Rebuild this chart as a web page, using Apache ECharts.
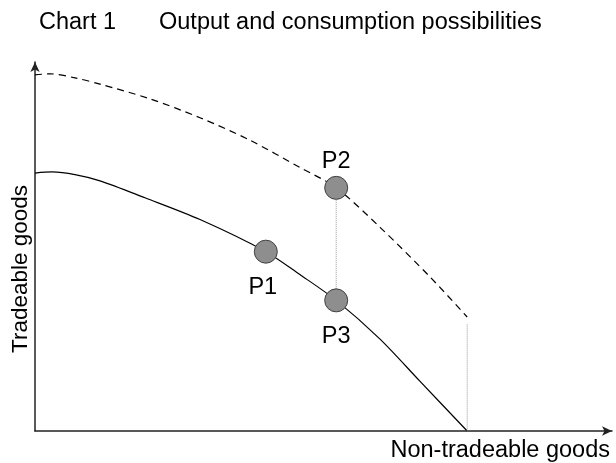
<!DOCTYPE html>
<html>
<head>
<meta charset="utf-8">
<title>Output and consumption possibilities</title>
<script src="https://cdn.jsdelivr.net/npm/echarts@6/dist/echarts.min.js"></script>
<style>
    html, body { margin: 0; padding: 0; background: #fff; }
    #chart { width: 616px; height: 463px; }
</style>
</head>
<body>
<div id="chart"></div>
<script>
    // output possibilities (solid) and consumption possibilities (dashed), axis units 0-100
    const outputX = [0, 2.95, 6.93, 11.27, 19.06, 28.6, 40, 45.9, 52.2, 59.8, 66.7, 74.9];
    const outputY = [69.9, 70.2, 69.5, 67.8, 63.2, 57.3, 48.6, 42.4, 35.4, 24.9, 13.5, 0];
    const consumptionX = [0, 2.6, 6.93, 11.27, 19.93, 28.6, 37.26, 45.93, 52.2, 59.8, 68.5, 74.9];
    const consumptionY = [96.5, 96.8, 95.7, 94, 90, 84.9, 78.8, 71.4, 65.9, 55.2, 41.7, 30.9];

    // marked points
    const pointNames = ["P1", "P2", "P3"];
    const pointX = [40, 52.2, 52.2];
    const pointY = [48.6, 65.9, 35.4];

    // dotted guide lines: P2 -> P3 and end of dashed curve -> x axis
    const guide1 = [[52.2, 65.9], [52.2, 35.4]];
    const guide2 = [[74.9, 28.9], [74.9, 0]];

    const titleLeft = "Chart 1";
    const titleRight = "Output and consumption possibilities";
    const xName = "Non-tradeable goods";
    const yName = "Tradeable goods";

    const font = "Liberation Sans, Arial, Helvetica, sans-serif";
    const fontSize = 23.5;

    let myChart = echarts.init(document.getElementById("chart"));

    let zip = (xs, ys) => xs.map((x, i) => [x, ys[i]]);

    let option = {
        animation: false,
        backgroundColor: "#fff",
        title: [
            {
                text: titleLeft,
                left: 34,
                top: 6,
                textStyle: { fontFamily: font, fontSize: fontSize, fontWeight: "normal", color: "#000" }
            },
            {
                text: titleRight,
                left: 154,
                top: 6,
                textStyle: { fontFamily: font, fontSize: fontSize, fontWeight: "normal", color: "#000" }
            }
        ],
        grid: {
            left: 35,
            right: 4,
            top: 62,
            bottom: 31
        },
        graphic: [
            {
                type: "text",
                x: 21,
                y: 269,
                rotation: Math.PI / 2,
                style: {
                    text: yName,
                    font: "22.5px " + font,
                    fill: "#000",
                    align: "center",
                    verticalAlign: "middle"
                }
            }
        ],
        xAxis: {
            type: "value",
            min: 0,
            max: 100,
            name: xName,
            nameLocation: "end",
            nameGap: -2,
            nameTextStyle: {
                fontFamily: font,
                fontSize: fontSize,
                color: "#000",
                align: "right",
                verticalAlign: "top",
                padding: [8, 0, 0, 0]
            },
            axisLine: {
                symbol: ["none", "arrow"],
                symbolSize: [7, 10],
                lineStyle: { color: "#222", width: 1.5 }
            },
            axisTick: { show: false },
            axisLabel: { show: false },
            splitLine: { show: false }
        },
        yAxis: {
            type: "value",
            min: 0,
            max: 100,
            axisLine: {
                show: true,
                symbol: ["none", "arrow"],
                symbolSize: [7, 10],
                lineStyle: { color: "#222", width: 1.5 }
            },
            axisTick: { show: false },
            axisLabel: { show: false },
            splitLine: { show: false }
        },
        series: [
            {
                name: "output",
                type: "line",
                data: zip(outputX, outputY),
                smooth: 0.3,
                symbol: "none",
                lineStyle: { color: "#000", width: 1.2 }
            },
            {
                name: "consumption",
                type: "line",
                data: zip(consumptionX, consumptionY),
                smooth: 0.3,
                symbol: "none",
                lineStyle: { color: "#000", width: 1.2, type: [7, 5] }
            },
            {
                name: "guide1",
                type: "line",
                data: guide1,
                symbol: "none",
                lineStyle: { color: "#999", width: 1, type: "dotted" }
            },
            {
                name: "guide2",
                type: "line",
                data: guide2,
                symbol: "none",
                lineStyle: { color: "#999", width: 1, type: "dotted" }
            },
            {
                name: "points",
                type: "scatter",
                z: 10,
                symbolSize: 23,
                itemStyle: { color: "#8e8e8e", borderColor: "#404040", borderWidth: 1, opacity: 1 },
                data: pointNames.map((n, i) => ({
                    name: n,
                    value: [pointX[i], pointY[i]],
                    label: {
                        show: true,
                        formatter: "{b}",
                        position: i === 1 ? "top" : "bottom",
                        distance: i === 1 ? 2 : 12,
                        offset: i === 0 ? [-3, 0] : [0, 0],
                        fontFamily: font,
                        fontSize: fontSize,
                        color: "#000"
                    }
                }))
            }
        ]
    };

    myChart.setOption(option);
</script>
</body>
</html>
